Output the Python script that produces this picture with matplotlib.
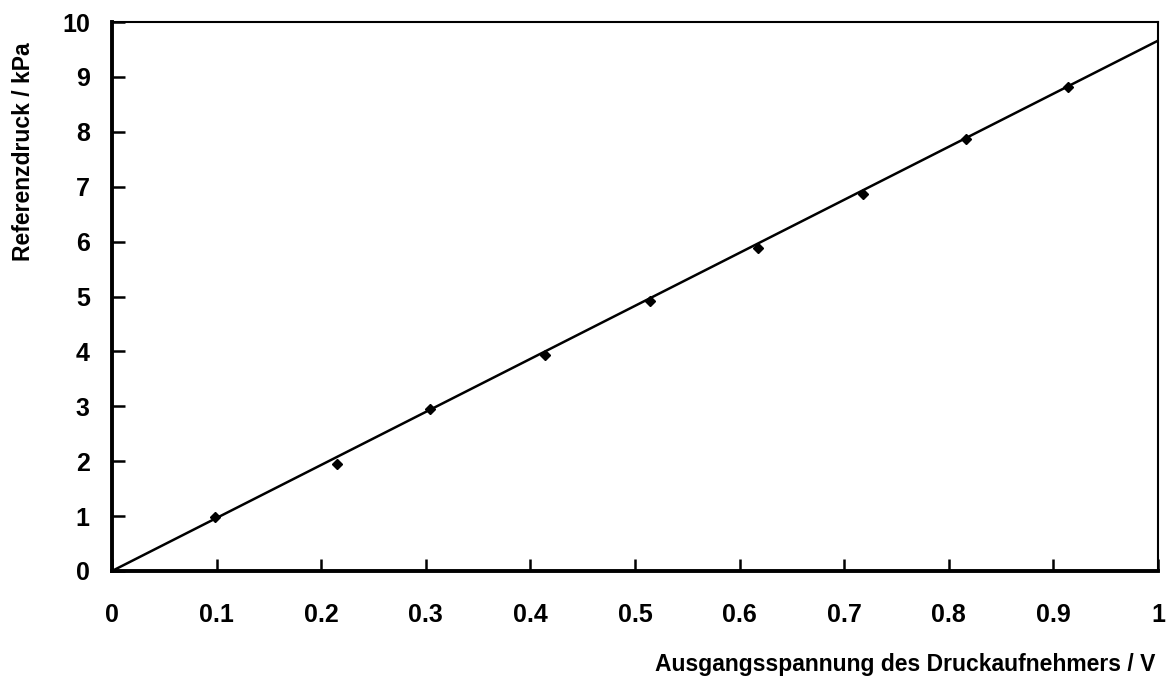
import matplotlib.pyplot as plt

plt.rcParams['font.family'] = ['Liberation Sans', 'DejaVu Sans']

# Messwerte: Ausgangsspannung (V) und Referenzdruck (kPa)
spannung = [0.098, 0.215, 0.304, 0.414, 0.514, 0.618, 0.718, 0.816, 0.914]
druck = [0.98, 1.95, 2.95, 3.93, 4.91, 5.88, 6.87, 7.86, 8.82]

# Ausgleichsgerade
fit_x = [0.0, 1.0]
fit_y = [0.0, 9.66]

x_ticks = [0, 0.1, 0.2, 0.3, 0.4, 0.5, 0.6, 0.7, 0.8, 0.9, 1]
x_labels = ['0', '0.1', '0.2', '0.3', '0.4', '0.5', '0.6', '0.7', '0.8', '0.9', '1']
y_ticks = list(range(0, 11))

fig = plt.figure(figsize=(11.68, 6.82), dpi=100)
ax = fig.add_axes([112 / 1168, 1 - 571 / 682, (1158 - 112) / 1168, (571 - 22) / 682])

ax.plot(fit_x, fit_y, color='black', linewidth=1.8, zorder=2)
ax.plot(spannung, druck, linestyle='none', marker='D', markersize=5.5,
        color='black', zorder=3)

ax.set_xlim(0, 1)
ax.set_ylim(0, 10)
ax.set_xticks(x_ticks)
ax.set_xticklabels(x_labels)
ax.set_yticks(y_ticks)

for side in ['left', 'bottom']:
    ax.spines[side].set_linewidth(2.8)
for side in ['top', 'right']:
    ax.spines[side].set_linewidth(1.5)

ax.tick_params(axis='both', direction='in', length=9, width=1.8, labelsize=18)
ax.tick_params(axis='y', pad=16)
ax.tick_params(axis='x', pad=23)
for lbl in ax.get_xticklabels() + ax.get_yticklabels():
    lbl.set_fontweight('bold')

fig.text(1155 / 1168, 1 - 665 / 682, 'Ausgangsspannung des Druckaufnehmers / V',
         ha='right', va='center', fontsize=16.5, fontweight='bold')
fig.text(24 / 1168, 1 - 152 / 682, 'Referenzdruck / kPa', rotation=90,
         ha='center', va='center', fontsize=16.5, fontweight='bold')

fig.savefig('out.png', dpi=100)
